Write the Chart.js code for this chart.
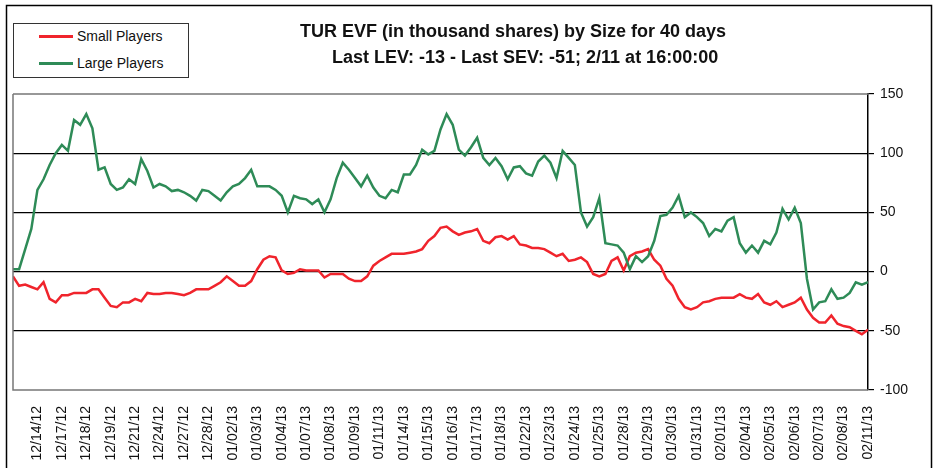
<!DOCTYPE html>
<html>
<head>
<meta charset="utf-8">
<script src="https://cdn.jsdelivr.net/npm/chart.js@4/dist/chart.umd.min.js"></script>
<style>
  body { margin: 0; background: #fff; }
  #wrap { position: relative; width: 936px; height: 468px; font-family: Arial, "Liberation Sans", sans-serif; }
  #c { position: absolute; left: 0; top: 0; }
  .legend { position: absolute; left: 13px; top: 23px; width: 174px; height: 53px; border: 1.5px solid #333; background: #fff; }
  .legend .item { position: absolute; left: 0; height: 18px; font-size: 14px; line-height: 18px; color: #111; }
  .legend .swatch { position: absolute; left: 25px; top: 8px; width: 34px; height: 3px; }
  .legend .txt { position: absolute; left: 63px; top: 0; white-space: nowrap; }
  .title { position: absolute; font-weight: bold; font-size: 18px; color: #111; white-space: nowrap; }
</style>
</head>
<body>
<div id="wrap">
  <canvas id="c" width="936" height="468"></canvas>
  <div class="legend">
    <div class="item" style="top:3px"><div class="swatch" style="background:#f0242c"></div><span class="txt">Small Players</span></div>
    <div class="item" style="top:30px"><div class="swatch" style="background:#2e8b57"></div><span class="txt">Large Players</span></div>
  </div>
  <div class="title" style="left:300px; top:21px">TUR EVF (in thousand shares) by Size for 40 days</div>
  <div class="title" style="left:332px; top:47px">Last LEV: -13 - Last SEV: -51; 2/11 at 16:00:00</div>
</div>
<script>
// --- data (thousand shares) ---
const dayLabels = [
    '12/14/12', '12/17/12', '12/18/12', '12/19/12', '12/21/12', '12/24/12', '12/27/12', '12/28/12',
    '01/02/13', '01/03/13', '01/04/13', '01/07/13', '01/08/13', '01/09/13', '01/11/13', '01/14/13',
    '01/15/13', '01/16/13', '01/17/13', '01/18/13', '01/22/13', '01/23/13', '01/24/13', '01/25/13',
    '01/28/13', '01/29/13', '01/30/13', '01/31/13', '02/01/13', '02/04/13', '02/05/13', '02/06/13',
    '02/07/13', '02/08/13', '02/11/13'
];

// one sample every quarter of a label step
const smallPlayers = [
    -4, -12, -11, -13, -15, -9, -23, -26, -20, -20, -18, -18, -18, -15, -15, -22, -29, -30, -26, -26,
    -23, -25, -18, -19, -19, -18, -18, -19, -20, -18, -15, -15, -15, -12, -9, -4,
    -8, -12, -12, -8, 2, 10, 13, 12, 1, -2, -1, 2, 1, 1, 1, -5, -2, -2, -2, -6,
    -8, -8, -4, 5, 9, 12, 15, 15, 15, 16, 17, 19, 26, 30, 37,
    38, 34, 31, 33, 34, 36, 26, 24, 29, 30, 27, 30, 23, 22, 20, 20, 19, 16, 13, 15,
    9, 10, 12, 8, -2, -4, -2, 9, 12, 1, 13, 16, 17, 19, 10,
    5, -6, -12, -23, -30, -32, -30, -26, -25, -23, -22, -22, -22, -19, -22, -23, -19, -26, -28, -25,
    -30, -28, -26, -22, -32, -39, -43, -43, -37, -44, -46, -47, -50, -53, -49
];

const largePlayers = [
    2, 2, 19, 36, 69, 78, 90, 100, 107, 102, 128, 124, 133, 121, 86, 88, 74, 69, 71, 78,
    74, 95, 85, 71, 74, 72, 68, 69, 67, 64, 60, 69, 68, 64, 60, 67,
    72, 74, 79, 86, 72, 72, 72, 69, 64, 50, 64, 62, 61, 57, 61, 50, 61, 79, 92, 86,
    79, 72, 81, 71, 64, 62, 69, 67, 82, 82, 90, 103, 99, 102, 120,
    133, 124, 103, 98, 105, 113, 96, 90, 96, 89, 78, 88, 89, 83, 81, 93, 98, 92, 79, 102,
    96, 90, 50, 38, 46, 62, 24, 23, 22, 16, 2, 13, 8, 13, 26,
    47, 48, 54, 64, 46, 50, 46, 41, 30, 36, 34, 43, 46, 24, 16, 22, 16, 26, 23, 33,
    53, 44, 54, 41, -6, -32, -26, -25, -15, -23, -22, -18, -9, -11, -9
];

const yTicks = [-100, -50, 0, 50, 100, 150];

const STEP = 0.25;
const toPoints = arr => arr.map((v, i) => ({ x: i * STEP, y: v }));

// frame round the whole chart and the plot box
const framePlugin = {
    id: 'frame',
    beforeDraw(chart) {
        const ctx = chart.ctx;
        ctx.save();
        ctx.fillStyle = '#fff';
        ctx.fillRect(0, 0, chart.width, chart.height);
        ctx.strokeStyle = '#000';
        ctx.lineWidth = 1.5;
        ctx.strokeRect(6.5, 5.5, 925, 470);
        ctx.restore();
    },
    afterDatasetsDraw(chart) {
        const a = chart.chartArea;
        const ctx = chart.ctx;
        ctx.save();
        ctx.strokeStyle = '#777';
        ctx.lineWidth = 1.5;
        ctx.beginPath();
        ctx.moveTo(a.left, a.top);
        ctx.lineTo(a.left, a.bottom);
        ctx.lineTo(a.right, a.bottom);
        ctx.moveTo(a.left, a.top);
        ctx.lineTo(a.right, a.top);
        ctx.stroke();
        ctx.restore();
    }
};

new Chart(document.getElementById('c').getContext('2d'), {
    type: 'line',
    data: {
        datasets: [
            {
                label: 'Small Players',
                data: toPoints(smallPlayers),
                borderColor: '#f0242c',
                borderWidth: 2.5,
                pointRadius: 0,
                tension: 0,
                fill: false,
                order: 1
            },
            {
                label: 'Large Players',
                data: toPoints(largePlayers),
                borderColor: '#2e8b57',
                borderWidth: 2.5,
                pointRadius: 0,
                tension: 0,
                fill: false,
                order: 0
            }
        ]
    },
    options: {
        responsive: false,
        devicePixelRatio: 1,
        animation: false,
        layout: { padding: { top: 94, left: 13, right: 0, bottom: 0 } },
        plugins: { legend: { display: false }, title: { display: false }, tooltip: { enabled: false } },
        scales: {
            x: {
                type: 'linear',
                min: 0,
                max: dayLabels.length,
                grid: { display: false },
                border: { display: false },
                afterBuildTicks: scale => { scale.ticks = dayLabels.map((_, i) => ({ value: i + 1 })); },
                afterFit: scale => { scale.height = 78; },
                ticks: {
                    autoSkip: false,
                    minRotation: 90,
                    maxRotation: 90,
                    padding: 8,
                    color: '#111',
                    font: { family: 'Arial, "Liberation Sans", sans-serif', size: 14 },
                    callback: v => dayLabels[v - 1]
                }
            },
            y: {
                position: 'right',
                min: -100,
                max: 150,
                afterBuildTicks: scale => { scale.ticks = yTicks.map(v => ({ value: v })); },
                afterFit: scale => { scale.width = 68; },
                border: { display: true, color: '#000', width: 1.5 },
                grid: {
                    color: c => (c.tick && (c.tick.value === 150 || c.tick.value === -100)) ? 'rgba(0,0,0,0)' : '#000',
                    tickColor: '#000',
                    tickLength: 6,
                    lineWidth: 1.2
                },
                ticks: {
                    padding: 6,
                    color: '#111',
                    font: { family: 'Arial, "Liberation Sans", sans-serif', size: 14 }
                }
            }
        }
    },
    plugins: [framePlugin]
});
</script>
</body>
</html>
